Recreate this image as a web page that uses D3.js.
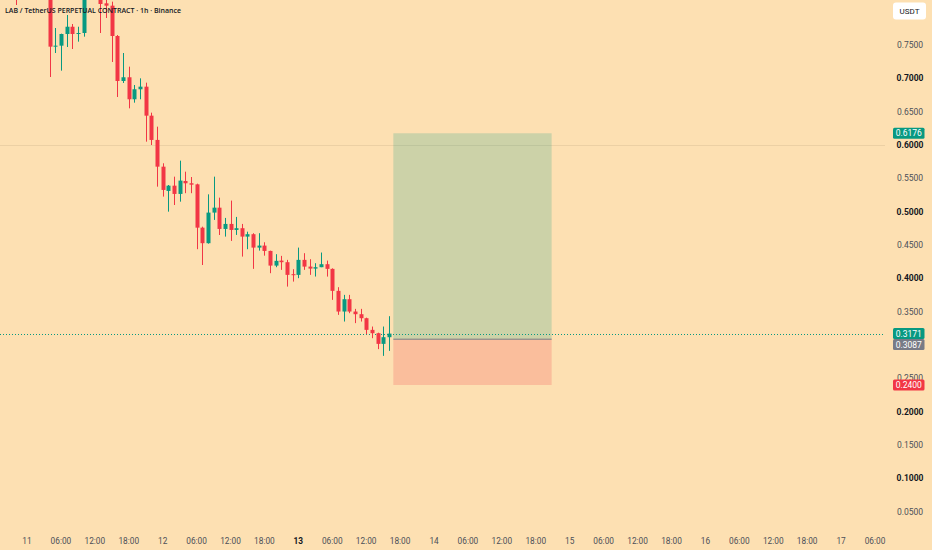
<!DOCTYPE html>
<html>
<head>
<meta charset="utf-8">
<script src="https://cdn.jsdelivr.net/npm/d3@7"></script>
<style>
  html, body { margin: 0; padding: 0; background: #fde0b2; }
  svg { display: block; }
</style>
</head>
<body>
<div id="container"></div>
<script>
// LAB/USDT 1h candles, first candle at day 11 hour -2 (i.e. day 10 22:00)
const firstHour = -2;
const opens = [0.860, 0.850, 0.842, 0.848, 0.836, 0.843, 0.832, 0.7475, 0.749, 0.7665,
  0.7774, 0.7665, 0.768, 0.825, 0.835, 0.826, 0.8125, 0.809, 0.7635, 0.696,
  0.7016, 0.6686, 0.6836, 0.6875, 0.644, 0.6076, 0.5675, 0.5311, 0.539, 0.5266,
  0.546, 0.5426, 0.541, 0.476, 0.4527, 0.4986, 0.506, 0.4741, 0.4816, 0.4726,
  0.4752, 0.4626, 0.4662, 0.4461, 0.4491, 0.4411, 0.4191, 0.4266, 0.4242, 0.4062,
  0.4052, 0.4277, 0.4176, 0.4146, 0.4167, 0.4212, 0.4142, 0.3812, 0.3502, 0.3687,
  0.3502, 0.3462, 0.3402, 0.3227, 0.3177, 0.3017, 0.3117];
const highs = [0.870, 0.862, 0.855, 0.860, 0.850, 0.852, 0.840, 0.7755, 0.767, 0.795,
  0.7815, 0.7774, 0.830, 0.845, 0.840, 0.830, 0.818, 0.815, 0.765, 0.738,
  0.7175, 0.690, 0.700, 0.6935, 0.6485, 0.6275, 0.5726, 0.540, 0.5525, 0.5765,
  0.560, 0.552, 0.542, 0.4775, 0.526, 0.5525, 0.521, 0.4906, 0.5166, 0.4921,
  0.4816, 0.470, 0.4677, 0.4677, 0.4541, 0.4415, 0.4362, 0.4337, 0.4277, 0.4137,
  0.4461, 0.4377, 0.4287, 0.4227, 0.4387, 0.4266, 0.4150, 0.3867, 0.3752, 0.3752,
  0.3542, 0.3542, 0.3410, 0.3277, 0.3185, 0.3277, 0.3432];
const lows = [0.810, 0.830, 0.826, 0.830, 0.825, 0.826, 0.702, 0.738, 0.7115, 0.747,
  0.744, 0.755, 0.7625, 0.820, 0.820, 0.768, 0.7905, 0.7245, 0.672, 0.693,
  0.655, 0.6635, 0.6686, 0.605, 0.600, 0.5375, 0.5226, 0.500, 0.510, 0.515,
  0.5277, 0.5277, 0.4437, 0.420, 0.452, 0.4876, 0.465, 0.4626, 0.4561, 0.4651,
  0.4326, 0.4437, 0.4142, 0.4416, 0.434, 0.4077, 0.4167, 0.4127, 0.3876, 0.3951,
  0.4002, 0.4127, 0.4052, 0.4027, 0.4167, 0.4026, 0.3677, 0.3452, 0.3352, 0.3477,
  0.3328, 0.3352, 0.3162, 0.3102, 0.2938, 0.2837, 0.2912];
const closes = [0.850, 0.842, 0.848, 0.836, 0.843, 0.832, 0.7475, 0.749, 0.7665, 0.7774,
  0.7665, 0.768, 0.825, 0.835, 0.826, 0.8115, 0.809, 0.7635, 0.696, 0.7016,
  0.6686, 0.6836, 0.6875, 0.644, 0.6076, 0.5675, 0.5326, 0.539, 0.5266, 0.5466,
  0.5426, 0.5405, 0.476, 0.4527, 0.4986, 0.506, 0.4741, 0.4816, 0.4726, 0.4752,
  0.4626, 0.4662, 0.4461, 0.4491, 0.4411, 0.4191, 0.4262, 0.4242, 0.4052, 0.4052,
  0.4277, 0.4176, 0.4146, 0.4167, 0.4212, 0.4142, 0.3812, 0.3502, 0.3687, 0.3502,
  0.3462, 0.3402, 0.3227, 0.3177, 0.3017, 0.3117, 0.3171];

// price scale labels
const priceTicks = [0.05, 0.10, 0.15, 0.20, 0.25, 0.35, 0.40, 0.45, 0.50, 0.55, 0.60, 0.65, 0.70, 0.75];
// time scale: hours since day 11 00:00
const timeTicks = d3.range(0, 151, 6);
const firstDay = 11;
const boldDay = 13;

// long position tool
const entryPrice = 0.3087;
const targetPrice = 0.6176;
const stopPrice = 0.2400;
const positionStart = 64.8;
const positionEnd = 92.8;
const lastPrice = 0.3171;
const markLevel = 0.6000;

const W = 932, H = 550;
const plotRight = 885, plotBottom = 530;
const up = "#089981", down = "#f23645";
const hourPx = 848 / 150;

const x = d3.scaleLinear()
  .domain([-27 / hourPx, (plotRight - 27) / hourPx])
  .range([0, plotRight]);
const y = d3.scaleLinear().domain([0, 0.75]).range([545, 45]);

const candles = opens.map(function (o, i) {
  return { h: firstHour + i, o: o, hi: highs[i], lo: lows[i], c: closes[i] };
});

const svg = d3.select("#container").append("svg")
  .attr("width", W).attr("height", H)
  .style("font-family", "Roboto, 'Liberation Sans', sans-serif");

svg.append("rect").attr("width", W).attr("height", H).attr("fill", "#fde0b2");

svg.append("defs").append("clipPath").attr("id", "plot")
  .append("rect").attr("x", 0).attr("y", 0).attr("width", plotRight).attr("height", plotBottom);

const plot = svg.append("g").attr("clip-path", "url(#plot)");

// faint horizontal level
plot.append("line")
  .attr("x1", 0).attr("x2", plotRight)
  .attr("y1", Math.round(y(markLevel)) + 0.5).attr("y2", Math.round(y(markLevel)) + 0.5)
  .attr("stroke", "#ecd0a4").attr("stroke-width", 1);

// position zones
plot.append("rect")
  .attr("x", x(positionStart)).attr("width", x(positionEnd) - x(positionStart))
  .attr("y", y(targetPrice)).attr("height", y(entryPrice) - y(targetPrice))
  .attr("fill", up).attr("fill-opacity", 0.2);
plot.append("rect")
  .attr("x", x(positionStart)).attr("width", x(positionEnd) - x(positionStart))
  .attr("y", y(entryPrice)).attr("height", y(stopPrice) - y(entryPrice))
  .attr("fill", down).attr("fill-opacity", 0.2);
plot.append("line")
  .attr("x1", x(positionStart)).attr("x2", x(positionEnd))
  .attr("y1", y(entryPrice)).attr("y2", y(entryPrice))
  .attr("stroke", "#787b86").attr("stroke-width", 1);

// last price dotted line
plot.append("line")
  .attr("x1", 0).attr("x2", plotRight)
  .attr("y1", Math.round(y(lastPrice)) + 0.5).attr("y2", Math.round(y(lastPrice)) + 0.5)
  .attr("stroke", up).attr("stroke-width", 1).attr("stroke-dasharray", "1,2");

// candles
const bodyW = 4;
const cg = plot.append("g").selectAll("g").data(candles).enter().append("g");
cg.append("line")
  .attr("x1", d => Math.round(x(d.h)) + 0.5).attr("x2", d => Math.round(x(d.h)) + 0.5)
  .attr("y1", d => y(d.hi)).attr("y2", d => y(d.lo))
  .attr("stroke", d => d.c >= d.o ? up : down).attr("stroke-width", 1);
cg.append("rect")
  .attr("x", d => Math.round(x(d.h)) + 0.5 - bodyW / 2)
  .attr("width", bodyW)
  .attr("y", d => y(Math.max(d.o, d.c)))
  .attr("height", d => Math.max(1, Math.abs(y(d.o) - y(d.c))))
  .attr("fill", d => d.c >= d.o ? up : down);

// price axis labels
svg.append("g").selectAll("text").data(priceTicks).enter().append("text")
  .attr("x", 910).attr("y", d => y(d))
  .attr("dy", "0.35em").attr("text-anchor", "middle")
  .attr("font-size", 8.5)
  .attr("font-weight", d => Math.round(d * 100) % 10 === 0 ? 700 : 400)
  .attr("fill", d => Math.round(d * 100) % 10 === 0 ? "#131722" : "#4c4f58")
  .text(d => d.toFixed(4));

// price label boxes, stacked so they don't cover each other
const boxH = 11;
const boxes = [
  { v: targetPrice, c: up },
  { v: lastPrice, c: up },
  { v: entryPrice, c: "#787b86" },
  { v: stopPrice, c: down }
];
let prevY = -Infinity;
boxes.forEach(function (b) {
  b.y = Math.max(y(b.v), prevY + boxH);
  prevY = b.y;
});
const bg = svg.append("g").selectAll("g").data(boxes).enter().append("g");
bg.append("rect")
  .attr("x", 893).attr("width", 31.5)
  .attr("y", d => d.y - boxH / 2).attr("height", boxH)
  .attr("rx", 1.5)
  .attr("fill", d => d.c);
bg.append("text")
  .attr("x", 908.75).attr("y", d => d.y)
  .attr("dy", "0.35em").attr("text-anchor", "middle")
  .attr("font-size", 8.5).attr("fill", "#fff")
  .text(d => d.v.toFixed(4));

// time axis labels
svg.append("g").selectAll("text").data(timeTicks).enter().append("text")
  .attr("x", d => x(d)).attr("y", 541)
  .attr("dy", "0.35em").attr("text-anchor", "middle")
  .attr("font-size", 8.3)
  .attr("font-weight", d => d % 24 === 0 && firstDay + d / 24 === boldDay ? 700 : 400)
  .attr("fill", d => d % 24 === 0 && firstDay + d / 24 === boldDay ? "#131722" : "#4c4f58")
  .text(d => d % 24 === 0 ? String(firstDay + d / 24) : d3.format("02")(d % 24) + ":00");

// currency button
svg.append("rect")
  .attr("x", 893).attr("y", 2.5).attr("width", 33).attr("height", 17)
  .attr("rx", 3).attr("fill", "#fff");
svg.append("text")
  .attr("x", 909.5).attr("y", 11).attr("dy", "0.35em")
  .attr("text-anchor", "middle").attr("font-size", 8).attr("fill", "#131722")
  .text("USDT");

// title
svg.append("text")
  .attr("x", 5).attr("y", 10).attr("dy", "0.35em")
  .attr("font-family", "'Open Sans', sans-serif")
  .attr("font-size", 7.6).attr("font-weight", 600).attr("fill", "#131722")
  .attr("textLength", 176).attr("lengthAdjust", "spacingAndGlyphs")
  .text("LAB / TetherUS PERPETUAL CONTRACT · 1h · Binance");
</script>
</body>
</html>
